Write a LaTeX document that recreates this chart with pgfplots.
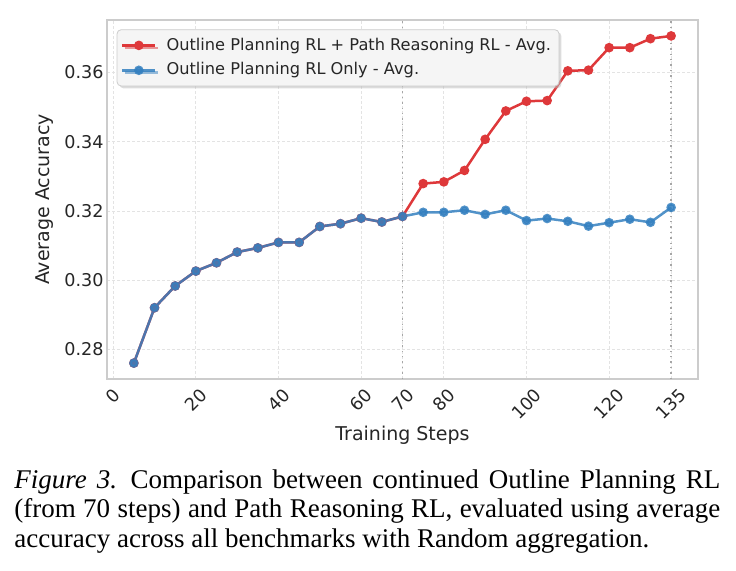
\documentclass[border=0pt]{standalone}
\usepackage{pgfplots}
\pgfplotsset{compat=1.18}
\usepackage{graphicx}
\usepackage{fontspec}
\setmainfont{DejaVu Sans}
\newfontfamily\capfont{Liberation Serif}
\usetikzlibrary{shadows}

\definecolor{myred}{RGB}{222,56,58}
\definecolor{myblue}{RGB}{52,128,192}
\definecolor{txt}{RGB}{38,38,38}

\pgfplotstableread{
x y
5 0.2760
10 0.2920
15 0.2983
20 0.3026
25 0.3050
30 0.3081
35 0.3093
40 0.3109
45 0.3109
50 0.3155
55 0.3163
60 0.3179
65 0.3168
70 0.3184
75 0.3279
80 0.3284
85 0.3317
90 0.3407
95 0.3489
100 0.3517
105 0.3519
110 0.3605
115 0.3607
120 0.3672
125 0.3672
130 0.3698
135 0.3706
}\redtab

\pgfplotstableread{
x y
5 0.2760
10 0.2920
15 0.2983
20 0.3026
25 0.3050
30 0.3081
35 0.3093
40 0.3109
45 0.3109
50 0.3155
55 0.3163
60 0.3179
65 0.3168
70 0.3184
75 0.3196
80 0.3196
85 0.3202
90 0.3190
95 0.3202
100 0.3172
105 0.3178
110 0.3170
115 0.3156
120 0.3166
125 0.3176
130 0.3167
135 0.3210
}\bluetab

\begin{document}
\begin{tikzpicture}
\useasboundingbox (-53.5pt,-95.5pt) rectangle (314.5pt,189.5pt);
\begin{axis}[
  width=295.5pt, height=179.5pt, scale only axis,
  xmin=-1.5, xmax=141.5, ymin=0.2714, ymax=0.3752,
  xtick={0,20,40,60,70,80,100,120,135},
  ytick={0.28,0.30,0.32,0.34,0.36},
  /pgf/number format/assume math mode=true,
  xticklabel={\rotatebox{45}{\pgfmathprintnumber{\tick}}},
  xticklabel style={anchor=north, inner sep=0pt, yshift=-4pt, font=\fontsize{8.8}{10}\selectfont, text=txt},
  yticklabel style={/pgf/number format/.cd, fixed, fixed zerofill, precision=2, /tikz/.cd, anchor=east, inner sep=0pt, xshift=-1.5pt, font=\fontsize{8.8}{10}\selectfont, text=txt},
  major tick length=0pt,
  grid=major,
  major grid style={draw=gray!22, dash pattern=on 1.5pt off 1pt, line width=0.4pt},
  axis line style={draw=gray!40, line width=0.6pt},
  xlabel={Training Steps},
  ylabel={Average Accuracy},
  every axis x label/.style={at={(axis description cs:0.5,-0.156)}, anchor=center, font=\fontsize{9.5}{11}\selectfont, text=txt},
  every axis y label/.style={at={(axis description cs:-0.105,0.5)}, rotate=90, anchor=center, font=\fontsize{9.5}{11}\selectfont, text=txt},
  legend style={at={(axis description cs:0.0164,0.974)}, anchor=north west,
    fill=gray!8, draw=gray!40, rounded corners=2pt,
    drop shadow={shadow xshift=1.2pt, shadow yshift=-1.2pt, fill=gray!55},
    font=\fontsize{8.1}{9.5}\selectfont, text=txt,
    inner xsep=2pt, inner ysep=2pt, row sep=0.8pt},
  legend cell align=left,
  legend image code/.code={\draw[mark repeat=2, mark phase=2, #1] plot coordinates {(0pt,0pt) (8.25pt,0pt) (16.5pt,0pt)}; \path (19.5pt,0pt);},
]
\addplot[forget plot, draw=gray!70, dotted, line width=0.7pt] coordinates {(70,0.2714) (70,0.3752)};
\addplot[forget plot, draw=gray!70, dotted, line width=0.7pt] coordinates {(135,0.2714) (135,0.3752)};
\addplot[myred, line width=1.25pt, mark=*, mark size=1.75pt, mark options={solid, fill=myred, draw=myred}] table[x=x, y=y] {\redtab};
\addlegendentry{Outline Planning RL + Path Reasoning RL - Avg.}
\addplot[myblue, opacity=0.85, line width=1.25pt, mark=*, mark size=1.75pt, mark options={solid, fill=myblue, draw=myblue}] table[x=x, y=y] {\bluetab};
\addlegendentry{Outline Planning RL Only - Avg.}
\end{axis}
\node[anchor=base west, inner sep=0pt, text width=353pt, align=justify, font=\capfont\fontsize{13.5}{14.75}\selectfont] at (-46.5pt,-54.5pt) {\textit{Figure 3.}\hspace{0.5em}Comparison between continued Outline Planning RL\linebreak (from 70 steps) and Path Reasoning RL, evaluated using average\linebreak accuracy across all benchmarks with Random aggregation.};
\end{tikzpicture}
\end{document}
